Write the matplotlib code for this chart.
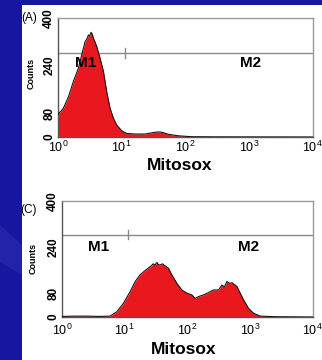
import matplotlib.pyplot as plt
import matplotlib.patches as mpatches

plt.rcParams['font.family'] = ['Liberation Sans', 'DejaVu Sans']
plt.rcParams['mathtext.fontset'] = 'custom'
plt.rcParams['mathtext.rm'] = 'Liberation Sans'
plt.rcParams['mathtext.it'] = 'Liberation Sans'

W, H = 322, 360

# panel (A): Mitosox intensity vs counts
mito_a = [1.0, 1.04, 1.21, 1.46, 1.74, 2.09, 2.36, 2.66, 2.85, 3.01, 3.15, 3.31,
          3.45, 3.60, 3.80, 4.06, 4.58, 5.18, 5.83, 6.59, 7.43, 8.39, 10.1,
          12.1, 16.3, 23.4, 28.0, 33.7, 38.0, 43.0, 54.6, 78.3, 126, 316, 10000]
counts_a = [76, 80, 96, 135, 186, 231, 276, 320, 330, 343, 340, 352,
            346, 332, 320, 304, 265, 220, 152, 96, 63, 40, 20,
            12, 10, 10, 13, 16, 17, 16, 9, 4, 1, 0.5, 0]

# panel (C)
mito_c = [1.0, 1.6, 2.45, 3.98, 5.85, 7.48, 9.53, 12.2, 14.7, 17.6, 21.2, 25.5,
          28.7, 30.5, 32.6, 34.5, 36.7, 40.0, 44.2, 49.9, 56.5, 67.9, 81.7,
          98.2, 118, 133, 150, 181, 217, 261, 314, 356, 390, 428, 470, 514,
          618, 697, 787, 946, 1138, 1455, 2512, 10000]
counts_c = [2, 3, 3, 2, 3, 18, 47, 87, 122, 145, 160, 173,
            183, 178, 188, 180, 179, 183, 176, 168, 145, 116, 93,
            82, 76, 64, 70, 76, 84, 93, 93, 110, 104, 122, 116, 118,
            105, 82, 59, 30, 13, 3, 1, 0]

gate_y = 283
gate_x = 11.2


def px_axes(l, t, r, b):
    return [l / W, 1 - b / H, (r - l) / W, (b - t) / H]


def ftext(x, y, s, **kw):
    fig.text(x / W, 1 - y / H, s, ha='center', va='center', **kw)


fig = plt.figure(figsize=(W / 100, H / 100), dpi=100)
fig.patch.set_facecolor('#1616a0')
# subtle lighter band on the left
fig.patches.append(mpatches.Polygon(
    [(0, 1 - 225 / H), (22 / W, 1 - 245 / H), (22 / W, 1 - 275 / H), (0, 1 - 262 / H)],
    closed=True, transform=fig.transFigure, facecolor='#2323aa', edgecolor='none', zorder=-2))
fig.patches.append(mpatches.Rectangle(
    (22 / W, 0), 1 - 22 / W, 1 - 5 / H, transform=fig.transFigure,
    facecolor='white', edgecolor='none', zorder=-1))

panels = [
    (px_axes(58, 18, 312.5, 137), mito_a, counts_a, '(A)', (29.5, 18),
     (31.5, 73), (180, 166), (1.85, 249), (735, 249), 2),
    (px_axes(62, 200.7, 312.7, 317), mito_c, counts_c, '(C)', (28.5, 210),
     (33.5, 258), (184, 349), (2.6, 241), (650, 241), 4),
]

for rect, xs, ys, tag, tag_pos, cnt_pos, mit_pos, m1, m2, xpad in panels:
    ax = fig.add_axes(rect)
    ax.set_facecolor('white')
    ax.set_xscale('log')
    ax.set_xlim(1, 1e4)
    ax.set_ylim(0, 400)
    ax.fill_between(xs, ys, 0, color='#e8181e', lw=0, zorder=2)
    ax.plot(xs, ys, color='#201010', lw=0.8, zorder=3)

    ax.axhline(gate_y, color='#8a8a8a', lw=1, zorder=1)
    ax.plot([gate_x, gate_x], [gate_y - 16, gate_y + 16], color='#8a8a8a', lw=1)

    ax.text(m1[0], m1[1], 'M1', fontsize=11, fontweight='bold', va='center')
    ax.text(m2[0], m2[1], 'M2', fontsize=11, fontweight='bold', va='center')

    ax.set_xticks([1, 10, 100, 1000, 10000])
    ax.set_xticklabels(['$10^{%d}$' % i for i in range(5)], fontsize=9)
    ax.set_xticks([], minor=True)
    ax.set_yticks([0, 80, 240, 400])
    ax.set_yticklabels(['0', '80', '240', '400'], fontsize=8.5,
                       fontweight='bold', rotation=90, va='center')
    ax.tick_params(axis='x', length=0, pad=xpad)
    ax.tick_params(axis='y', length=0, pad=2)

    for side in ['top', 'right']:
        ax.spines[side].set_color('#999999')
    for side in ['left', 'bottom']:
        ax.spines[side].set_color('#555555')
    for sp in ax.spines.values():
        sp.set_linewidth(1)

    ftext(tag_pos[0], tag_pos[1], tag, fontsize=8.5)
    ftext(cnt_pos[0], cnt_pos[1], 'Counts', fontsize=6.5, fontweight='bold', rotation=90)
    ftext(mit_pos[0], mit_pos[1], 'Mitosox', fontsize=12.5, fontweight='bold')

fig.savefig('out.png', dpi=100, facecolor=fig.get_facecolor())
